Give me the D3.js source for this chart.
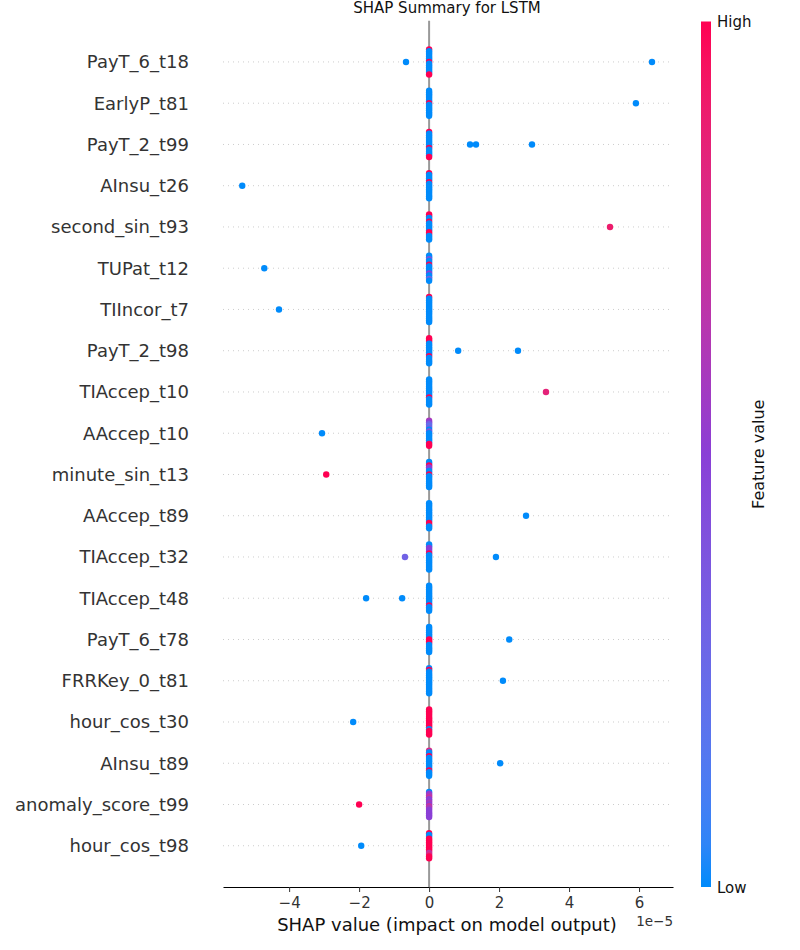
<!DOCTYPE html>
<html>
<head>
<meta charset="utf-8">
<script src="https://cdn.jsdelivr.net/npm/d3@7"></script>
<style>
  body { margin: 0; background: #fff; font-family: "DejaVu Sans", sans-serif; }
</style>
</head>
<body>
<div id="drawing_region"></div>
<script>
// features, top to bottom
const features = ["PayT_6_t18", "EarlyP_t81", "PayT_2_t99", "AInsu_t26", "second_sin_t93",
    "TUPat_t12", "TIIncor_t7", "PayT_2_t98", "TIAccep_t10", "AAccep_t10",
    "minute_sin_t13", "AAccep_t89", "TIAccep_t32", "TIAccep_t48", "PayT_6_t78",
    "FRRKey_0_t81", "hour_cos_t30", "AInsu_t89", "anomaly_score_t99", "hour_cos_t98"];

// feature values of the points sitting at SHAP = 0, listed top to bottom of each pile
const zeroStacks = [
    [1,0,0,0,0,0,0,1,0,0,0,0,0,0,1],
    [0,0,0,0,0,0,0,1,0,0,0,0,0,0,0],
    [1,0,0,0,0,0,0,0,0,1,0,0,0,0,1],
    [1,0,0,0,0,1,0,0,0,0,0,0,0,0,0],
    [1,1,0,0,1,0,0,0,0,0,1,1,0,0,0],
    [0,0,0.4,0,0,1,0,0,0,0,0.5,0,0,0.3,0],
    [1,0,0,0,0,0,0,0,0,0,0,0,0,0,0],
    [1,1,1,0,0,0,0,0,0,0,1,0,0,0,0],
    [0,0,0,0,0,0,0,0,0,0,1,0,0,0,0],
    [0.6,0.5,0.3,0.2,0.3,0,0.4,0,0,0,0,0,0,1,1],
    [0,0,1,0.5,0.5,0,0,1,0,0,0,0,0,0,0],
    [0,0,0,0,0,0,0,0,0,0,0,1,1,0,0],
    [0,0,0.5,0.5,0.5,1,0,0,0,0,0,0,0,0,0],
    [0,0,0,0,0,0,0,0,0,0,0,1,0,0,0],
    [0,0,0,0,0,0,0,1,1,1,0,0,0,0,0],
    [0,1,0,0,0,0,0,0,0,0,0,0,0,0,0],
    [1,1,1,1,1,1,1,1,1,1,1,0,1,1,1],
    [0.8,0,0,1,0,0,0,0,0,0,0,1,0,0,0],
    [0,0.5,0.6,0.7,0.5,0.5,0.6,0.5,0.7,0.6,0.5,0.5,0.5,0.5,0.5],
    [1,0,0,1,1,1,1,1,1,1,1,0.7,0.8,1,1]
];

// points away from zero: [feature index, SHAP value (x1e-5), feature value]
const outliers = [
    [0, -0.66, 0], [0, 6.37, 0],
    [1, 5.91, 0],
    [2, 1.17, 0], [2, 1.34, 0], [2, 2.94, 0],
    [3, -5.34, 0],
    [4, 5.17, 0.9],
    [5, -4.71, 0],
    [6, -4.29, 0],
    [7, 0.83, 0], [7, 2.54, 0],
    [8, 3.34, 0.85],
    [9, -3.06, 0],
    [10, -2.94, 1],
    [11, 2.77, 0],
    [12, -0.69, 0.3], [12, 1.91, 0],
    [13, -1.8, 0], [13, -0.77, 0],
    [14, 2.29, 0],
    [15, 2.11, 0],
    [16, -2.17, 0],
    [17, 2.03, 0],
    [18, -2.0, 1],
    [19, -1.94, 0]
];

const xTicks = [-4, -2, 0, 2, 4, 6];

const width = 800, height = 950;
const margin = {left: 223, right: 127, top: 20.7, bottom: 63};

const svg = d3.select('#drawing_region').append('svg')
    .attr('width', width).attr('height', height);

const x0 = margin.left, x1 = width - margin.right;
const y0 = margin.top, y1 = height - margin.bottom;

const xscale = d3.scaleLinear().domain([-5.89, 6.97]).range([x0, x1]);
const yscale = d3.scaleLinear().domain([features.length, -1]).range([y0, y1]);
const rowY = i => yscale(features.length - 1 - i);
const stackScale = d3.scaleLinear().domain([0, 14]).range([-12.5, 12.5]);

const color = d3.scaleLinear().domain([0, 0.5, 1])
    .range(["#008bfb", "#8a3fd6", "#ff0052"])
    .interpolate(d3.interpolateLab);

// dotted row guides
svg.append('g').selectAll('line').data(features).join('line')
    .attr('x1', x0).attr('x2', x1)
    .attr('y1', (d, i) => rowY(i)).attr('y2', (d, i) => rowY(i))
    .attr('stroke', '#cccccc').attr('stroke-width', 1)
    .attr('stroke-dasharray', '1,4');

// zero line
svg.append('line')
    .attr('x1', xscale(0)).attr('x2', xscale(0))
    .attr('y1', y0).attr('y2', y1)
    .attr('stroke', '#999999').attr('stroke-width', 2);

// piles at zero
const zeroPts = [];
zeroStacks.forEach((s, i) => s.forEach((v, j) => zeroPts.push({row: i, k: j, v: v})));
svg.append('g').selectAll('circle').data(zeroPts).join('circle')
    .attr('cx', xscale(0))
    .attr('cy', d => rowY(d.row) + stackScale(d.k))
    .attr('r', 3.2)
    .attr('fill', d => color(d.v));

svg.append('g').selectAll('circle').data(outliers).join('circle')
    .attr('cx', d => xscale(d[1]))
    .attr('cy', d => rowY(d[0]))
    .attr('r', 3.2)
    .attr('fill', d => color(d[2]));

// feature labels
svg.append('g').selectAll('text').data(features).join('text')
    .attr('x', 189).attr('y', (d, i) => rowY(i))
    .attr('dy', '0.35em')
    .attr('text-anchor', 'end')
    .attr('font-size', 18)
    .attr('fill', '#333333')
    .text(d => d);

// x axis
const xAxis = svg.append('g')
    .attr('transform', `translate(0, ${y1})`)
    .call(d3.axisBottom(xscale).tickValues(xTicks).tickSize(5).tickSizeOuter(0)
        .tickFormat(d => d < 0 ? '\u2212' + Math.abs(d) : d));
xAxis.select('.domain').attr('stroke', '#000').attr('stroke-width', 1.2);
xAxis.selectAll('.tick line').attr('stroke', '#333');
xAxis.selectAll('.tick text')
    .attr('font-size', 15).attr('font-family', 'DejaVu Sans').attr('fill', '#333').attr('dy', '0.85em');

svg.append('text')
    .attr('x', (x0 + x1) / 2 - 1).attr('y', 931)
    .attr('text-anchor', 'middle').attr('font-size', 18).attr('fill', '#111')
    .text('SHAP value (impact on model output)');

svg.append('text')
    .attr('x', 673).attr('y', 926)
    .attr('text-anchor', 'end').attr('font-size', 13.5).attr('fill', '#333')
    .text('1e\u22125');

svg.append('text')
    .attr('x', 447).attr('y', 13)
    .attr('text-anchor', 'middle').attr('font-size', 15).attr('fill', '#111')
    .text('SHAP Summary for LSTM');

// colour bar
const defs = svg.append('defs');
const grad = defs.append('linearGradient').attr('id', 'cbar')
    .attr('x1', 0).attr('x2', 0).attr('y1', 1).attr('y2', 0);
grad.selectAll('stop').data(d3.range(0, 1.0001, 0.05)).join('stop')
    .attr('offset', d => d).attr('stop-color', d => color(d));

const cbTop = 21.5, cbBottom = 887;
svg.append('rect')
    .attr('x', 701).attr('y', cbTop).attr('width', 10).attr('height', cbBottom - cbTop)
    .attr('fill', 'url(#cbar)');

svg.append('text').attr('x', 717).attr('y', 27)
    .attr('font-size', 15).attr('fill', '#111').text('High');
svg.append('text').attr('x', 717).attr('y', 893)
    .attr('font-size', 15).attr('fill', '#111').text('Low');
svg.append('text')
    .attr('transform', `translate(764, ${(cbTop + cbBottom) / 2}) rotate(-90)`)
    .attr('text-anchor', 'middle').attr('font-size', 16).attr('fill', '#111')
    .text('Feature value');
</script>
</body>
</html>
